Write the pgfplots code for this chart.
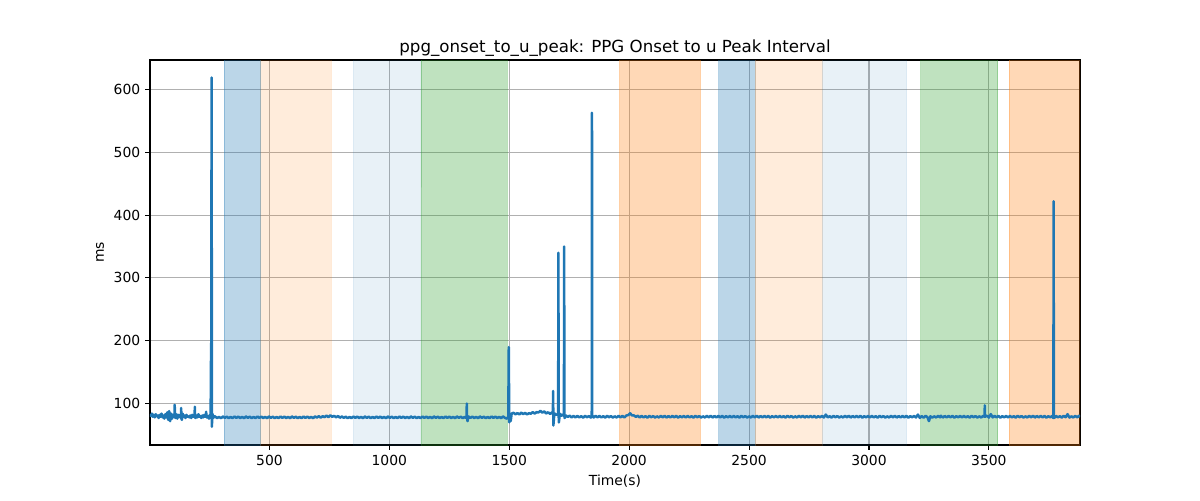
\documentclass[border=0pt]{standalone}
\usepackage{pgfplots}
\pgfplotsset{compat=1.18}
\usepackage{fontspec}
\setmainfont{DejaVu Sans}
\definecolor{tabblue}{HTML}{1F77B4}
\definecolor{taborange}{HTML}{FF7F0E}
\definecolor{tabgreen}{HTML}{2CA02C}
\definecolor{gridgray}{HTML}{B0B0B0}
\newcommand{\band}[4]{\addplot[draw=#3, draw opacity=#4, fill=#3, fill opacity=#4, line width=0.6pt, forget plot] coordinates {(#1,-100)(#1,1000)(#2,1000)(#2,-100)} \closedcycle;}
\begin{document}
\begin{tikzpicture}
\path[use as bounding box] (-108pt,-39.6pt) rectangle (756pt,320.4pt);
\begin{axis}[
 scale only axis, width=669.6pt, height=277.2pt,
 xmin=2, xmax=3880, ymin=34, ymax=647,
 xtick={500,1000,1500,2000,2500,3000,3500}, ytick={100,200,300,400,500,600},
 grid=major, grid style={color=gridgray, line width=0.8pt},
 tick align=outside, tick style={black, line width=0.8pt}, major tick length=3.5pt,
 xtick pos=lower, ytick pos=left,
 axis line style={line width=0.8pt},
 /pgf/number format/assume math mode=true,
 /pgf/number format/1000 sep={},
 ticklabel style={font=\fontsize{10}{12}\selectfont},
 xlabel={Time(s)}, ylabel={ms},
 label style={font=\fontsize{10}{12}\selectfont},
 title={ppg\_onset\_to\_u\_peak: PPG Onset to u Peak Interval},
 title style={font=\fontsize{12}{14}\selectfont, yshift=-7pt},
]
\band{311}{464}{tabblue}{0.3}
\band{464}{757}{taborange}{0.15}
\band{850}{1132}{tabblue}{0.1}
\band{1132}{1491}{tabgreen}{0.3}
\band{1960}{2297}{taborange}{0.3}
\band{2374}{2525}{tabblue}{0.3}
\band{2525}{2805}{taborange}{0.15}
\band{2805}{3157}{tabblue}{0.1}
\band{3216}{3537}{tabgreen}{0.3}
\band{3584}{3890}{taborange}{0.3}
\addplot[tabblue, line width=1.8pt, line join=round] coordinates {
(2,83)(6,80)(10,84)(14,79)(18,82)(22,78)(26,83)(30,80)(34,81)(38,77)(42,82)(46,79)(50,84)(54,78)(58,81)(62,76)(66,83)(70,78)(74,86)(78,74)(82,88)(86,72)(90,84)(94,76)(98,82)(102,79)(104,80)(105,98)(106,80)(108,77)(112,83)(116,76)(120,82)(124,80)(128,78)(131,80)(132,93)(133,76)(135,74)(138,84)(142,79)(146,81)(150,77)(154,82)(158,79)(162,80)(166,78)(170,81)(174,77)(178,82)(182,79)(186,80)(188,81)(189,95)(190,78)(192,77)(196,81)(200,78)(204,83)(208,79)(212,80)(216,77)(220,81)(224,78)(228,82)(232,79)(235,80)(236,87)(238,78)(240,78)(244,80)(248,76)(252,82)(255,80)(256,168)(257,90)(259,619)(260,63)(262,84)(266,77)(270,80)
(274,79.3)(282,76.9)(290,78.9)(298,76.6)(306,79.5)(314,77.2)(322,79.1)(330,76.7)(338,78.7)(346,76.8)(354,79.4)(362,77.1)
(370,79.3)(378,76.9)(386,78.9)(394,76.6)(402,79.5)(410,77.2)(418,79.1)(426,76.7)(434,78.7)(442,76.8)(450,79.4)(458,77.1)
(466,79.3)(474,76.9)(482,78.9)(490,76.6)(498,79.5)(506,77.2)(514,79.1)(522,76.7)(530,78.7)(538,76.8)(546,79.4)(554,77.1)
(562,79.3)(570,76.9)(578,78.9)(586,76.6)(594,79.5)(602,77.2)(610,79.1)(618,76.7)(626,78.7)(634,76.8)(642,79.4)(650,77.1)
(658,79.3)(666,76.9)(674,78.9)(682,76.6)(690,79.5)(698,77.6)(706,79.9)(714,77.5)(722,79.9)(730,78.3)(738,80.9)(746,78.2)
(754,81.3)(762,78.9)(770,80.4)(778,78.1)(786,80.2)(794,77.4)(802,79.5)(810,77.2)(818,79.1)(826,76.7)(834,78.7)(842,76.8)
(850,79.4)(858,77.1)(866,79.3)(874,76.9)(882,78.9)(890,76.6)(898,79.5)(906,77.2)(914,79.1)(922,76.7)(930,78.7)(938,76.8)
(946,79.4)(954,77.1)(962,79.3)(970,76.9)(978,78.9)(986,76.6)(994,79.5)(1002,77.2)(1010,79.1)(1018,76.7)(1026,78.7)(1034,76.8)
(1042,79.4)(1050,77.1)(1058,79.3)(1066,76.9)(1074,78.9)(1082,76.6)(1090,79.5)(1098,77.2)(1106,79.1)(1114,76.7)(1122,78.7)(1130,76.8)
(1138,79.4)(1146,77.1)(1154,79.3)(1162,76.9)(1170,78.9)(1178,76.6)(1186,79.5)(1194,77.2)(1202,79.1)(1210,76.7)(1218,78.7)(1226,76.8)
(1234,79.4)(1242,77.1)(1250,79.3)(1258,76.9)(1266,78.9)(1274,76.6)(1282,79.5)(1290,77.2)(1298,79.1)(1306,76.7)(1314,78.7)(1320,77)
(1322,78)(1323,100)(1324,78)(1326,72)(1330,79.4)(1338,77.1)(1346,79.3)(1354,76.9)(1362,78.9)(1370,76.6)(1378,79.5)(1386,77.2)
(1394,79.1)(1402,76.7)(1410,78.7)(1418,76.8)(1426,79.4)(1434,77.1)(1442,79.3)(1450,76.9)(1458,78.9)(1466,76.6)(1474,79.5)(1482,77.2)
(1490,76)(1496,79)(1498,190)(1500,70)(1503,80)(1506,72)(1510,84)
(1518,85.3)(1526,82.9)(1534,84.9)(1542,82.6)(1550,85.5)(1558,83.2)(1566,85.1)(1574,82.7)(1582,84.7)(1590,83.8)(1598,86.4)(1606,84.1)
(1614,86.3)(1622,85.9)(1630,88.4)(1638,85.6)(1646,87.5)(1654,84.2)(1662,86.1)(1670,83.7)(1678,85.7)(1682,83)(1683,120)(1684,65)
(1688,84.4)(1696,82.1)(1702,83)(1704,84)(1705,340)(1706,82)(1707,70)(1711,83.9)(1718,80.6)(1724,82.5)(1728,81)(1729,350)(1730,80)(1731,77)
(1736,81.1)(1744,78.7)(1752,80.7)(1760,77.8)(1768,80.4)(1776,77.9)(1784,80.3)(1792,77.9)(1800,79.9)(1808,77.6)(1816,80.5)(1824,78.2)
(1832,80.1)(1840,77.7)(1844,80)(1845,563)(1846,81)(1852,77.8)(1860,80.4)(1868,78.1)(1876,80.3)(1884,77.9)(1892,79.9)(1900,77.6)
(1908,80.5)(1916,78.2)(1924,80.1)(1932,77.7)(1940,79.7)(1948,77.8)(1956,80.4)(1964,78.1)(1972,80.3)(1980,77.9)(1988,80.9)(1996,81.6)
(2004,84.5)(2012,81.2)(2020,81.1)(2028,78.7)(2036,80.7)(2044,77.8)
(2052,80.3)(2060,77.9)(2068,79.9)(2076,77.6)(2084,80.5)(2092,78.2)(2100,80.1)(2108,77.7)(2116,79.7)(2124,77.8)(2132,80.4)(2140,78.1)
(2148,80.6)(2156,77.7)(2164,80.2)(2172,77.9)(2180,80.3)(2188,78.0)(2196,80.4)(2204,77.5)(2212,79.9)(2220,78.1)(2228,80.2)(2236,77.8)
(2244,80.3)(2252,77.9)(2260,79.9)(2268,77.6)(2276,80.5)(2284,78.2)(2292,80.1)(2300,77.7)(2308,79.7)(2316,77.8)(2324,80.4)(2332,78.1)
(2340,80.6)(2348,77.7)(2356,80.2)(2364,77.9)(2372,80.3)(2380,78.0)(2388,80.4)(2396,77.5)(2404,79.9)(2412,78.1)(2420,80.2)(2428,77.8)
(2436,80.3)(2444,77.9)(2452,79.9)(2460,77.6)(2468,80.5)(2476,78.2)(2484,80.1)(2492,77.7)(2500,79.7)(2508,77.8)(2516,80.4)(2524,78.1)
(2532,80.6)(2540,77.7)(2548,80.2)(2556,77.9)(2564,80.3)(2572,78.0)(2580,80.4)(2588,77.5)(2596,79.9)(2604,78.1)(2612,80.2)(2620,77.8)
(2628,80.3)(2636,77.9)(2644,79.9)(2652,77.6)(2660,80.5)(2668,78.2)(2676,80.1)(2684,77.7)(2692,79.7)(2700,77.8)(2708,80.4)(2716,78.1)
(2724,80.6)(2732,77.7)(2740,80.2)(2748,77.9)(2756,80.3)(2764,78.0)(2772,80.4)(2780,77.5)(2788,79.9)(2796,78.1)(2804,80.2)(2812,77.8)
(2820,82.5)(2828,77.9)(2836,79.9)(2844,77.6)(2852,80.5)(2860,78.2)(2868,80.1)(2876,77.7)(2884,79.7)(2892,77.8)(2900,80.4)(2908,78.1)
(2916,80.6)(2924,77.7)(2932,80.2)(2940,77.9)(2948,80.3)(2956,78.0)(2964,80.4)(2972,77.5)(2980,79.9)(2988,78.1)(2996,80.2)(3004,77.8)
(3012,80.3)(3020,77.9)(3028,79.9)(3036,77.6)(3044,80.5)(3052,78.2)(3060,80.1)(3068,77.7)(3076,79.7)(3084,77.8)(3092,80.4)(3100,78.1)
(3108,80.6)(3116,77.7)(3124,80.2)(3132,77.9)(3140,80.3)(3148,78.0)(3156,80.4)(3164,77.5)(3172,79.9)(3180,78.1)(3188,80.2)(3196,77.8)
(3204,82.5)(3212,77.2)(3220,79.9)(3228,77.6)(3236,80.5)(3244,78.2)(3250,72)(3256,79.7)(3264,77.7)(3272,79.7)(3280,77.8)(3288,80.4)(3296,78.1)
(3300,80.6)(3308,77.7)(3316,80.2)(3324,77.9)(3332,80.3)(3340,78.0)(3348,80.4)(3356,77.5)(3364,79.9)(3372,78.1)(3380,80.2)(3388,77.8)
(3396,80.3)(3404,77.9)(3412,79.9)(3420,77.6)(3428,80.5)(3436,78.2)(3444,80.1)(3452,77.7)(3460,79.7)(3468,77.8)(3476,80.4)(3482,79)(3483,97)(3484,79)
(3492,80.6)(3500,77.7)(3508,83.2)(3516,77.9)(3524,80.3)(3532,78.0)(3540,80.4)(3548,77.5)(3556,79.9)(3564,78.1)(3572,80.2)(3580,77.8)
(3588,80.3)(3596,77.9)(3604,79.9)(3612,77.6)(3620,80.5)(3628,78.2)(3636,80.1)(3644,77.7)(3652,79.7)(3660,77.8)(3668,80.4)(3676,78.1)
(3684,80.6)(3692,77.7)(3700,80.2)(3708,77.9)(3716,80.3)(3724,78.0)(3732,80.4)(3740,77.5)(3748,79.9)(3756,78.1)(3764,80.2)(3768,77)(3769,79)(3770,422)(3771,79)(3772,77)
(3780,80.3)(3788,77.9)(3796,79.9)(3804,77.6)(3812,80.5)(3820,78.2)(3828,83.1)(3836,77.7)(3844,79.7)(3852,77.8)(3860,80.4)(3868,78.1)
(3876,80.6)(3880,78.5)
};
\end{axis}
\end{tikzpicture}
\end{document}
